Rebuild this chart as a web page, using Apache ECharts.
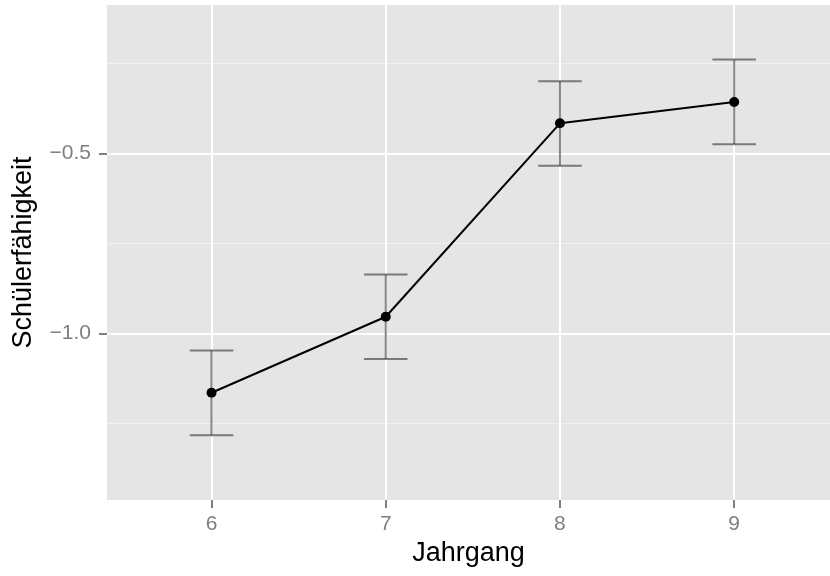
<!DOCTYPE html>
<html>
<head>
<meta charset="utf-8">
<script src="https://cdn.jsdelivr.net/npm/echarts@6/dist/echarts.min.js"></script>
<style>
html,body{margin:0;padding:0;background:#fff;}
#c{width:830px;height:576px;}
</style>
</head>
<body>
<div id="c"></div>
<script>
// Data
const categories = [6, 7, 8, 9];
const means = [-1.164, -0.953, -0.416, -0.357];
const lower = [-1.282, -1.070, -0.534, -0.474];
const upper = [-1.047, -0.836, -0.299, -0.239];

// Axis ticks / gridlines
const xTicks = [6, 7, 8, 9];
const yTicks = [-1.0, -0.5];
const yTickLabels = ['\u22121.0', '\u22120.5'];
const yMinor = [-1.25, -0.75, -0.25];

const chart = echarts.init(document.getElementById('c'), null, {renderer: 'canvas'});
const FONT = '"Liberation Sans", Arial, Helvetica, sans-serif';

const gridSeries = {
  type: 'line', data: [], z: 1, silent: true,
  markLine: {
    silent: true, symbol: 'none', z: 1, animation: false,
    label: {show: false},
    data: [
      ...yMinor.map(v => ({yAxis: v, lineStyle: {color: '#F2F2F2', width: 1, type: 'solid'}})),
      ...yTicks.map(v => ({yAxis: v, lineStyle: {color: '#FFFFFF', width: 2, type: 'solid'}})),
      ...xTicks.map(v => ({xAxis: v, lineStyle: {color: '#FFFFFF', width: 2, type: 'solid'}}))
    ]
  }
};

const errSeries = {
  type: 'custom', z: 3, silent: true,
  data: categories.map((c, i) => [c, lower[i], upper[i]]),
  renderItem: function (params, api) {
    const x = api.value(0);
    const lo = api.coord([x, api.value(1)]);
    const hi = api.coord([x, api.value(2)]);
    const l = api.coord([x - 0.125, api.value(1)]);
    const r = api.coord([x + 0.125, api.value(1)]);
    const lh = api.coord([x - 0.125, api.value(2)]);
    const rh = api.coord([x + 0.125, api.value(2)]);
    const style = {stroke: 'rgba(0,0,0,0.47)', lineWidth: 2, fill: null};
    return {
      type: 'group',
      children: [
        {type: 'line', shape: {x1: lo[0], y1: lo[1], x2: hi[0], y2: hi[1]}, style: style},
        {type: 'line', shape: {x1: l[0], y1: l[1], x2: r[0], y2: r[1]}, style: style},
        {type: 'line', shape: {x1: lh[0], y1: lh[1], x2: rh[0], y2: rh[1]}, style: style}
      ]
    };
  }
};

const lineSeries = {
  type: 'line', z: 4, silent: true,
  data: categories.map((c, i) => [c, means[i]]),
  symbol: 'circle', symbolSize: 10,
  itemStyle: {color: '#000'},
  lineStyle: {color: '#000', width: 2},
  animation: false
};

chart.setOption({
  animation: false,
  backgroundColor: '#fff',
  grid: {left: 107, right: 0, top: 5, bottom: 76, show: true, backgroundColor: '#E5E5E5', borderWidth: 0},
  xAxis: {
    type: 'value', min: 5.4, max: 9.55,
    name: 'Jahrgang', nameLocation: 'middle', nameGap: 36,
    nameTextStyle: {color: '#000', fontSize: 27, fontFamily: FONT},
    axisLine: {show: false},
    splitLine: {show: false},
    axisTick: {show: true, length: 8, customValues: xTicks, lineStyle: {color: '#7F7F7F', width: 2}},
    axisLabel: {show: true, customValues: xTicks, margin: 14, color: '#7F7F7F', fontSize: 21, fontFamily: FONT,
      formatter: v => String(v)}
  },
  yAxis: {
    type: 'value', min: -1.4617, max: -0.0875,
    name: 'Schülerfähigkeit', nameLocation: 'middle', nameGap: 70, nameRotate: 90,
    nameTextStyle: {color: '#000', fontSize: 27, fontFamily: FONT},
    axisLine: {show: false},
    splitLine: {show: false},
    axisTick: {show: true, length: 8, customValues: yTicks, lineStyle: {color: '#7F7F7F', width: 2}},
    axisLabel: {show: true, customValues: yTicks, margin: 16, color: '#7F7F7F', fontSize: 21, fontFamily: FONT,
      formatter: v => yTickLabels[yTicks.indexOf(Math.round(v * 100) / 100)] || ''}
  },
  series: [gridSeries, errSeries, lineSeries]
});
</script>
</body>
</html>
